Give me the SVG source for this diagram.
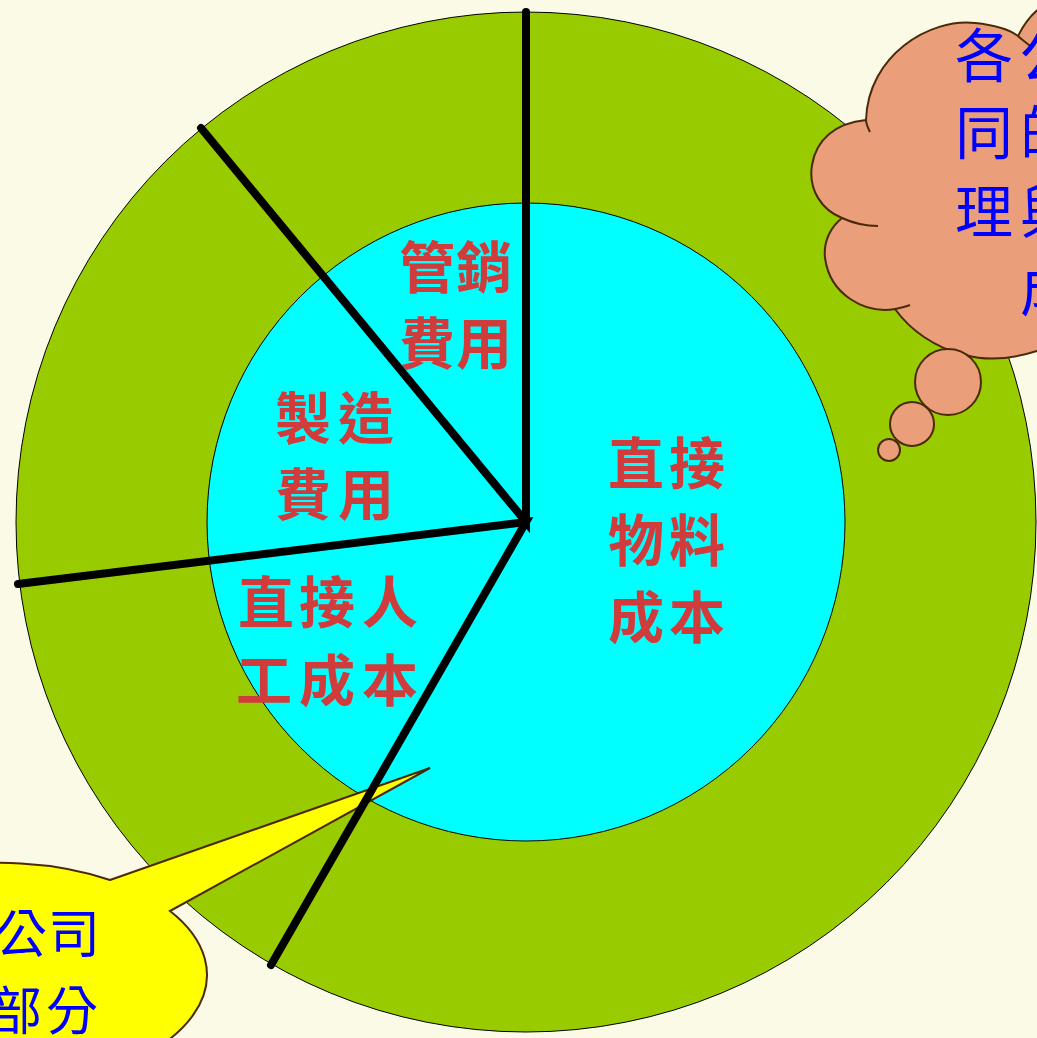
<svg xmlns="http://www.w3.org/2000/svg" width="1037" height="1038" viewBox="0 0 1037 1038">
<style>
.red{font-family:"Noto Sans CJK TC","Noto Sans CJK SC",sans-serif;font-size:56px;font-weight:700;fill:#D03B3B}
.blue{font-family:"Noto Sans CJK TC","Noto Sans CJK SC",sans-serif;font-weight:400;fill:#0000FF}
.div{stroke:#000;stroke-width:8;stroke-linecap:round;fill:none}
.cl{fill:#EA9F7A;stroke:#4A2A0A;stroke-width:2}
.cli{fill:none;stroke:#4A2A0A;stroke-width:2}
</style>
<rect width="1037" height="1038" fill="#FAFAE6"/>
<g id="outer-ring"><circle cx="526" cy="522" r="510" fill="#99CC00" stroke="#000" stroke-width="1"/></g>
<g id="inner-pie"><circle cx="526" cy="522" r="319" fill="#00FFFF" stroke="#000" stroke-width="1"/></g>
<g id="callout-yellow">
<path d="M110,880 L430,768 L170,911 A207 112 0 1 1 110,880 Z" fill="#FFFF00" stroke="#4A2A0A" stroke-width="2"/>
<text class="blue" font-size="52"><tspan x="-5" y="953">公</tspan><tspan x="48" y="953">司</tspan><tspan x="-10" y="1030">部</tspan><tspan x="46" y="1030">分</tspan></text>
</g>
<g id="dividers">
<path class="div" d="M526,12 L526,522 L201,128"/>
<path class="div" d="M18,584 L526,522 L271,965"/>
</g>
<g id="label-sales"><text class="red"><tspan x="399" y="288">管</tspan><tspan x="456" y="288">銷</tspan><tspan x="399" y="364">費</tspan><tspan x="456" y="364">用</tspan></text></g>
<g id="label-overhead"><text class="red"><tspan x="275" y="439">製</tspan><tspan x="338" y="439">造</tspan><tspan x="275" y="515">費</tspan><tspan x="338" y="515">用</tspan></text></g>
<g id="label-labor"><text class="red"><tspan x="238" y="623">直</tspan><tspan x="299" y="623">接</tspan><tspan x="362" y="623">人</tspan><tspan x="236" y="701">工</tspan><tspan x="299" y="701">成</tspan><tspan x="362" y="701">本</tspan></text></g>
<g id="label-material"><text class="red"><tspan x="608" y="484">直</tspan><tspan x="669" y="484">接</tspan><tspan x="608" y="561">物</tspan><tspan x="669" y="561">料</tspan><tspan x="608" y="638">成</tspan><tspan x="669" y="638">本</tspan></text></g>
<g id="cloud">
<path class="cl" d="M866,120 C868,55 930,18 975,23 C995,25 1010,30 1018,36 C1024,24 1032,14 1040,8 L1045,8 L1045,352 L1037,351 C1015,358 990,362 965,355 C935,348 910,330 895,309 C865,314 830,295 825,258 C823,240 832,226 842,218 C822,210 808,190 812,165 C816,140 835,123 866,120 Z"/>
<path class="cli" d="M866,120 C866,124 868,128 870,132"/>
<path class="cli" d="M1018,36 C1022,40 1027,43 1030,46"/>
<path class="cli" d="M842,218 C855,224 866,226 878,226"/>
<path class="cli" d="M895,309 C900,308 905,307 910,305"/>
<circle class="cl" cx="948" cy="382" r="33"/>
<circle class="cl" cx="912" cy="424" r="22"/>
<circle class="cl" cx="889" cy="450" r="11"/>
<text class="blue" font-size="58"><tspan x="955" y="77">各</tspan><tspan x="1020" y="77">公</tspan><tspan x="955" y="154">同</tspan><tspan x="1020" y="154">的</tspan><tspan x="955" y="233">理</tspan><tspan x="1020" y="233">與</tspan><tspan x="1020" y="311">成</tspan></text>
</g>
</svg>
